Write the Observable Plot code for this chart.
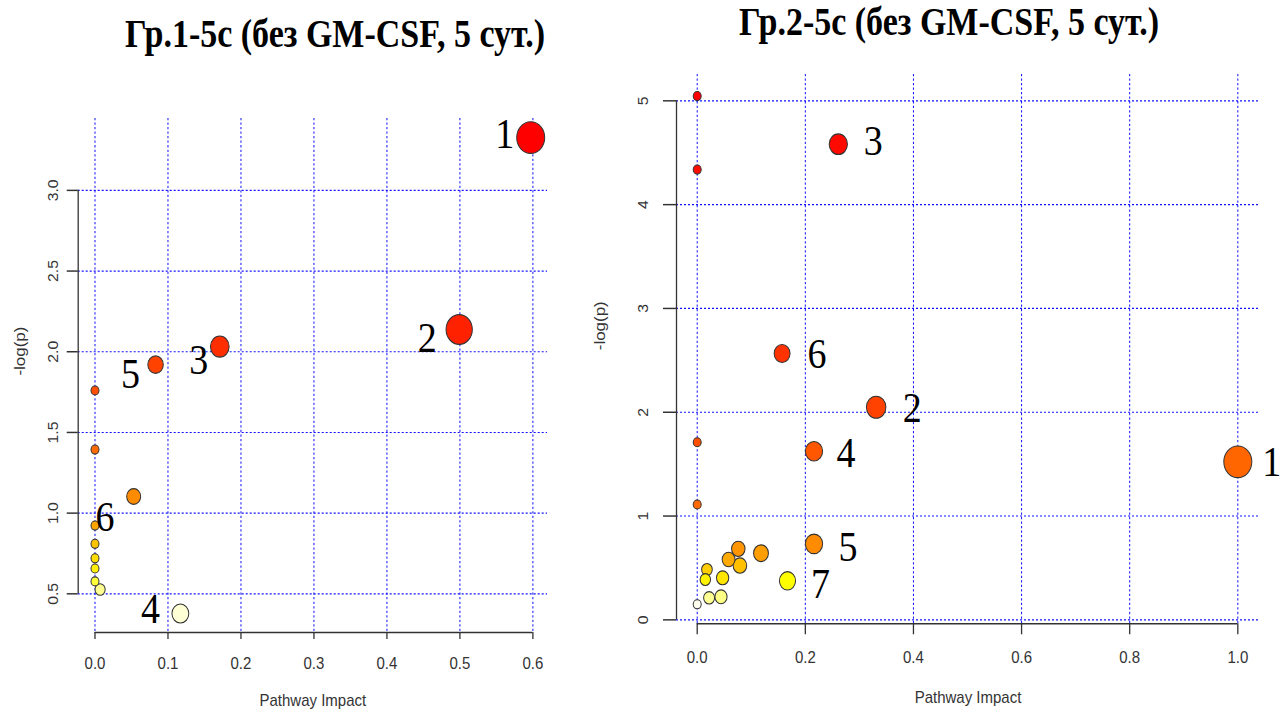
<!DOCTYPE html>
<html>
<head>
<meta charset="utf-8">
<script src="https://cdn.jsdelivr.net/npm/d3@7"></script>
<script src="https://cdn.jsdelivr.net/npm/@observablehq/plot@0.6"></script>
<style>
  html, body { margin: 0; padding: 0; background: #fff; }
  #root { position: relative; width: 1283px; height: 709px; overflow: hidden; background: #fff; }
  .panel { position: absolute; top: 0; transform: scaleY(1.13); transform-origin: 0 0; }
  .panel svg { max-width: none !important; overflow: visible; }
  .title {
    position: absolute; white-space: nowrap; line-height: 1;
    font-family: "Liberation Serif", "Times New Roman", serif; font-weight: bold;
    font-size: 34px; color: #000;
    transform: translateX(-50%) scaleY(1.15); transform-origin: 50% 50%;
    z-index: 5;
  }
</style>
</head>
<body>
<div id="root">
  <div id="p1" class="panel" style="left:0px;width:580px"></div>
  <div id="p2" class="panel" style="left:580px;width:703px"></div>
  <div class="title" id="t1" style="left:335px;top:17px"></div>
  <div class="title" id="t2" style="left:949px;top:5px"></div>
</div>
<script>
// ---------- DATA ----------
const title1 = "Гр.1-5с (без GM-CSF, 5 сут.)";
const title2 = "Гр.2-5с (без GM-CSF, 5 сут.)";
const xAxisTitle = "Pathway Impact";
const yAxisTitle = "-log(p)";

// Panel 1 (Гр.1-5с)
const impact1 = [0.597, 0.499, 0.171, 0.083, 0.000, 0.000, 0.053, 0.000, 0.000, 0.000, 0.000, 0.000, 0.007, 0.117];
const logp1   = [3.327, 2.138, 2.032, 1.920, 1.760, 1.394, 1.103, 0.923, 0.810, 0.720, 0.657, 0.577, 0.527, 0.378];
const labels1 = ["1", "2", "3", "5", "", "", "", "6", "", "", "", "", "", "4"];
const xTicks1 = [0.0, 0.1, 0.2, 0.3, 0.4, 0.5, 0.6];
const yTicks1 = [0.5, 1.0, 1.5, 2.0, 2.5, 3.0];

// Panel 2 (Гр.2-5с)
const impact2 = [0.000, 0.000, 0.261, 0.157, 0.331, 0.216, 0.000, 0.000, 1.000, 0.216, 0.076, 0.118, 0.058, 0.079, 0.018, 0.015, 0.047, 0.167, 0.022, 0.044, 0.000];
const logp2   = [5.046, 4.338, 4.582, 2.566, 2.048, 1.624, 1.711, 1.111, 1.522, 0.732, 0.684, 0.642, 0.581, 0.523, 0.485, 0.388, 0.405, 0.376, 0.212, 0.222, 0.150];
const labels2 = ["", "", "3", "6", "2", "4", "", "", "1", "5", "", "", "", "", "", "", "", "7", "", "", ""];
const xTicks2 = [0.0, 0.2, 0.4, 0.6, 0.8, 1.0];
const yTicks2 = [0, 1, 2, 3, 4, 5];

// ---------- RENDERING ----------
const sans = "'Liberation Sans', Arial, sans-serif";
const serif = "'Liberation Serif', 'Times New Roman', serif";
const S = 1.13;          // vertical stretch of the original picture
const H = 709 / S;       // svg height before the stretch

function buildPanel(cfg) {
  const rows = cfg.xs.map((x, i) => ({x, y: cfg.ys[i], label: cfg.labels[i]}));
  const labelled = rows.filter(d => d.label !== "");
  const gridStyle = {stroke: "#1010ff", strokeOpacity: 1, strokeWidth: 1, strokeDasharray: "2,2"};
  const axisStyle = {stroke: "#333", strokeWidth: 1.3};
  return Plot.plot({
    width: cfg.width, height: H,
    marginLeft: cfg.left, marginRight: cfg.width - cfg.right,
    marginTop: cfg.top / S, marginBottom: H - cfg.bottom / S,
    x: {domain: cfg.xDomain},
    y: {domain: cfg.yDomain},
    r: {type: "sqrt", domain: [0, d3.max(cfg.xs)], range: [4, 14]},
    color: {type: "linear", domain: cfg.colorDomain, range: cfg.colorRange, clamp: true},
    style: {fontFamily: sans, background: "transparent", overflow: "visible"},
    marks: [
      Plot.gridX(cfg.xTicks, gridStyle),
      Plot.gridY(cfg.yTicks, gridStyle),
      Plot.ruleY([cfg.yDomain[0]], {x1: cfg.xTicks[0], x2: cfg.xTicks[cfg.xTicks.length - 1], ...axisStyle}),
      Plot.ruleX([cfg.xDomain[0]], {y1: cfg.yTicks[0], y2: cfg.yTicks[cfg.yTicks.length - 1], ...axisStyle}),
      Plot.axisX(cfg.xTicks, {tickSize: cfg.xTickSize / S, tickFormat: () => "", label: null, ...axisStyle}),
      Plot.axisY(cfg.yTicks, {tickSize: cfg.yTickSize, tickFormat: () => "", label: null, ...axisStyle}),
      Plot.text(cfg.xTicks, {x: d => d, text: d => d3.format(".1f")(d), frameAnchor: "bottom", dy: cfg.xLabDy / S,
        fontSize: 15, fill: "#333", lineAnchor: "middle"}),
      Plot.text(cfg.yTicks, {y: d => d, text: d => cfg.yFmt(d), frameAnchor: "left", dx: cfg.yLabDx, rotate: -90,
        fontSize: 14, fill: "#333", textAnchor: "middle", lineAnchor: "middle"}),
      Plot.text([xAxisTitle], {frameAnchor: "bottom", dy: cfg.xTitleDy / S, text: d => d, fontSize: 15, fill: "#333", lineAnchor: "middle"}),
      Plot.text([yAxisTitle], {frameAnchor: "left", dx: cfg.yTitleDx, dy: cfg.yTitleDy / S, text: d => d, rotate: -90,
        fontSize: 15, fill: "#333", lineAnchor: "middle"}),
      Plot.dot(rows, {x: "x", y: "y", r: "x", fill: "y", stroke: "#333", strokeWidth: 1}),
      ...labelled.map(d =>
        Plot.text([d], {x: "x", y: "y", text: "label", dx: cfg.off[d.label][0], dy: cfg.off[d.label][1] / S,
          fontFamily: serif, fontSize: 38, fill: "#000", lineAnchor: "middle", textAnchor: "middle"}))
    ]
  });
}

document.getElementById("t1").textContent = title1;
document.getElementById("t2").textContent = title2;

document.getElementById("p1").append(buildPanel({
  xs: impact1, ys: logp1, labels: labels1, xTicks: xTicks1, yTicks: yTicks1,
  yFmt: d3.format(".1f"),
  width: 580, left: 77.7, right: 547, top: 118, bottom: 632,
  xDomain: [-0.023, 0.62], yDomain: [0.26, 3.445],
  colorDomain: [0.38, 0.53, 0.6, 0.72, 0.92, 1.1, 1.4, 1.9, 2.1, 3.3],
  colorRange: ["#ffffd6", "#ffff90", "#ffff10", "#ffdd00", "#ffa500", "#ff8c00", "#ff6a00", "#ff4500", "#ff2200", "#ff0000"],
  xTickSize: 7, yTickSize: 11, xLabDy: 31, yLabDx: -24.7,
  xTitleDy: 68, yTitleDx: -57.7, yTitleDy: 0,
  off: {"1": [-26, -3], "2": [-32, 9], "3": [-21, 14], "5": [-25, 10], "6": [10, -8], "4": [-30, -4]}
}));

document.getElementById("p2").append(buildPanel({
  xs: impact2, ys: logp2, labels: labels2, xTicks: xTicks2, yTicks: yTicks2,
  yFmt: d3.format("d"),
  width: 703, left: 96, right: 679, top: 74, bottom: 623.3,
  xDomain: [-0.0383, 1.0401], yDomain: [-0.0385, 5.253],
  colorDomain: [0.15, 0.22, 0.376, 0.4, 0.49, 0.58, 0.73, 1.11, 1.55, 1.65, 2.5, 5.0],
  colorRange: ["#fffff0", "#ffff88", "#ffff00", "#ffe600", "#ffcc00", "#ffaa00", "#ff8c00", "#ff6a00", "#ff6600", "#ff5000", "#ff3300", "#ff0000"],
  xTickSize: 11, yTickSize: 13, xLabDy: 34, yLabDx: -33,
  xTitleDy: 73.7, yTitleDx: -76, yTitleDy: 1,
  off: {"1": [34, 0], "2": [36, 1], "3": [35, -3], "4": [32, 2], "5": [34, 3], "6": [35, 1], "7": [33, 3]}
}));
</script>
</body>
</html>
